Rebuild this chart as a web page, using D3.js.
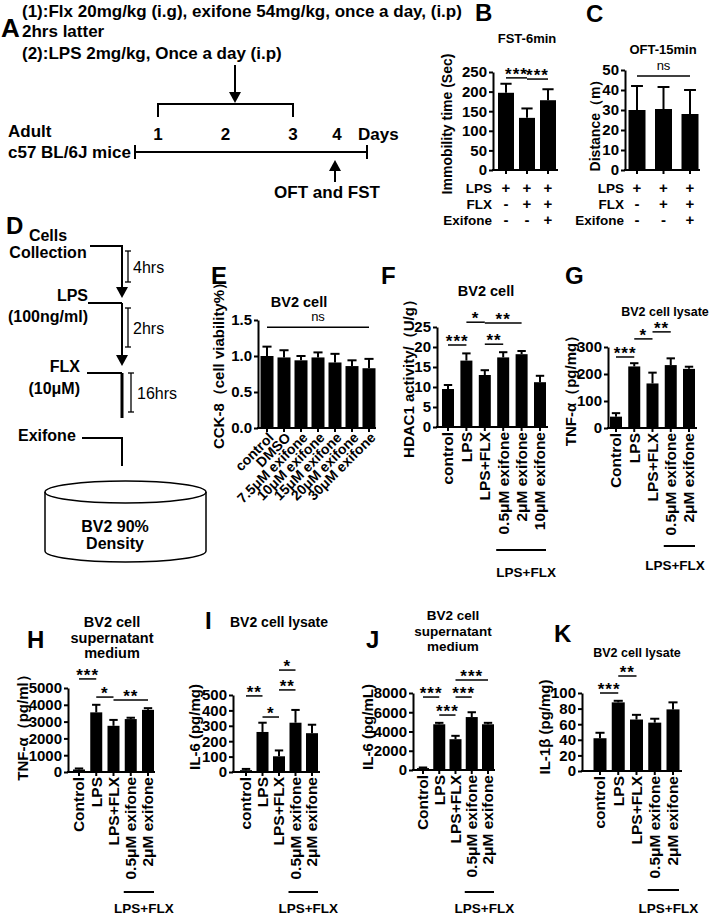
<!DOCTYPE html>
<html>
<head>
<meta charset="utf-8">
<script src="https://cdn.jsdelivr.net/npm/d3@7"></script>
<style>
  body { margin: 0; background: #fff; }
  svg { font-family: "Liberation Sans", Arial, Helvetica, sans-serif; font-weight: bold; }
</style>
</head>
<body>
<svg id="fig" width="709" height="916"></svg>
<script>
/* DATA */
// B: forced swim test
const fstValues = [197, 133, 178];
const fstErrors = [23, 24, 28];
// C: open field test
const oftValues = [30, 30.5, 28];
const oftErrors = [12, 11, 12];
const treatRows = ["LPS", "FLX", "Exifone"];
const treatSigns = [["+", "+", "+"], ["-", "+", "+"], ["-", "-", "+"]];
// E: CCK-8
const cckLabels = ["control", "DMSO", "7.5μM exifone", "10μM exifone", "15μM exifone", "20μM exifone", "30μM exifone"];
const cckValues = [1.00, 0.98, 0.94, 0.98, 0.91, 0.86, 0.83];
const cckErrors = [0.13, 0.10, 0.06, 0.07, 0.12, 0.08, 0.13];
// F: HDAC1
const hdacLabels = ["control", "LPS", "LPS+FLX", "0.5μM exifone", "2μM exifone", "10μM exifone"];
const hdacValues = [9.5, 16.6, 13.0, 17.4, 18.2, 11.2];
const hdacErrors = [1.0, 1.8, 1.2, 1.3, 0.8, 1.6];
// G-K: cytokines
const cytoLabels = ["Control", "LPS", "LPS+FLX", "0.5μM exifone", "2μM exifone"];
const cytoLabelsLc = ["control", "LPS", "LPS+FLX", "0.5μM exifone", "2μM exifone"];
const tnfLysValues = [42, 228, 165, 233, 219];
const tnfLysErrors = [13, 12, 40, 25, 8];
const tnfSupValues = [150, 3550, 2750, 3150, 3700];
const tnfSupErrors = [60, 450, 350, 80, 100];
const il6LysValues = [12, 260, 102, 320, 252];
const il6LysErrors = [8, 60, 38, 83, 55];
const il6SupValues = [200, 4750, 3200, 5500, 4750];
const il6SupErrors = [60, 150, 350, 500, 150];
const il1bValues = [42, 88, 66, 62, 79];
const il1bErrors = [7, 2, 6, 5, 9];

// significance marks: [bar, bar, label, line height in axis units]
const fstSig = [[0, 1, "***", 235], [1, 2, "***", 232]];
const oftSig = [[0, 2, "ns", 47]];
const cckSig = [[0, 6, "ns", 1.40]];
const hdacSig = [[0, 1, "***", 20.5], [1, 2, "*", 26.2], [2, 3, "**", 20.7], [2, 4, "**", 26]];
const tnfLysSig = [[0, 1, "***", 263], [1, 2, "*", 330], [2, 3, "**", 356]];
const tnfSupSig = [[0, 1, "***", 5540], [1, 2, "*", 4460], [2, 4, "**", 4290]];
const il6LysSig = [[0, 1, "**", 494], [1, 2, "*", 357], [2, 3, "**", 533], [2, 3, "*", 662]];
const il6SupSig = [[0, 1, "***", 7580], [2, 3, "***", 7580], [1, 2, "***", 5710], [2, 4, "***", 9350]];
const il1bSig = [[0, 1, "***", 100], [1, 2, "**", 121.8]];

const svg = d3.select("#fig");

function label(x, y, s, size, anchor, weight) {
  return svg.append("text")
    .attr("x", x).attr("y", y)
    .attr("font-size", size)
    .attr("text-anchor", anchor || "start")
    .attr("font-weight", weight || "bold")
    .text(s);
}
function line(x1, y1, x2, y2, w) {
  return svg.append("line")
    .attr("x1", x1).attr("y1", y1).attr("x2", x2).attr("y2", y2)
    .attr("stroke", "#000").attr("stroke-width", w || 2);
}
function arrowHead(x, y, dir) {
  // dir 1 = pointing down, -1 = pointing up
  svg.append("path")
    .attr("d", `M${x},${y} L${x - 6},${y - 11 * dir} L${x + 6},${y - 11 * dir} Z`)
    .attr("fill", "#000");
}

/* PANEL A: timeline */
label(1, 37, "A", 26);
label(22, 17, "(1):Flx 20mg/kg (i.g), exifone 54mg/kg, once a day, (i.p)", 17);
label(22, 37, "2hrs latter", 17);
label(22, 59, "(2):LPS 2mg/kg, Once a day (i.p)", 17);
line(235, 65, 235, 95);
arrowHead(235, 103, 1);
line(158, 104, 293, 104);
line(158, 103, 158, 117);
line(293, 103, 293, 117);
const dayX = d3.scaleLinear().domain([1, 3]).range([158, 293]);
[1, 2, 3, 4].forEach(d => label(d === 4 ? 337 : dayX(d), 140, String(d), 17, "middle"));
label(358, 140, "Days", 17);
label(8, 137, "Adult", 17);
label(8, 158, "c57 BL/6J mice", 17);
line(135, 152, 367, 152);
line(135, 145, 135, 159);
line(367, 145, 367, 159);
line(335, 170, 335, 182);
arrowHead(335, 160, -1);
label(327, 198, "OFT and FST", 17, "middle");

/* PANEL D: protocol */
label(6, 234, "D", 24);
label(48, 241, "Cells", 16, "middle");
label(48, 258, "Collection", 16, "middle");
line(90, 246, 122, 246);
line(122, 245, 122, 290);
arrowHead(122, 298, 1);
function span(x, y1, y2, txt, tx) {
  line(x, y1, x, y2, 1.3);
  line(x - 3, y1, x + 3, y1, 1.3);
  line(x - 3, y2, x + 3, y2, 1.3);
  label(tx, (y1 + y2) / 2 + 6, txt, 16, "start", "normal");
}
span(128, 251, 282, "4hrs", 133);
label(88, 301, "LPS", 16, "end");
label(88, 322, "(100ng/ml)", 16, "end");
line(88, 303, 122, 303);
line(122, 303, 122, 357);
arrowHead(122, 366, 1);
span(128, 308, 347, "2hrs", 133);
label(80, 372, "FLX", 16, "end");
label(80, 394, "(10μM)", 16, "end");
line(87, 373, 122, 373);
line(122, 373, 122, 418, 3);
span(131, 373, 412, "16hrs", 137);
label(18, 441, "Exifone", 16);
line(82, 438, 123, 438);
line(122, 437, 122, 466);
// culture dish
const cyl = { cx: 125.5, rx: 80.5, top: 492, bot: 551, ry: 11 };
svg.append("ellipse").attr("cx", cyl.cx).attr("cy", cyl.top).attr("rx", cyl.rx).attr("ry", cyl.ry)
  .attr("fill", "none").attr("stroke", "#000").attr("stroke-width", 1.5);
svg.append("path")
  .attr("d", `M${cyl.cx - cyl.rx},${cyl.top} L${cyl.cx - cyl.rx},${cyl.bot} A${cyl.rx},${cyl.ry} 0 0 0 ${cyl.cx + cyl.rx},${cyl.bot} L${cyl.cx + cyl.rx},${cyl.top}`)
  .attr("fill", "none").attr("stroke", "#000").attr("stroke-width", 1.5);
label(115, 532, "BV2 90%", 16, "middle");
label(115, 549, "Density", 16, "middle");

/* BAR PANELS */
function barPanel(p) {
  const g = svg.append("g");
  const n = p.values.length;
  const x = d3.scalePoint().domain(d3.range(n)).range([p.c0, p.c1]);
  const y = d3.scaleLinear().domain([0, p.max]).range([p.y0, p.y1]);

  // bars
  g.selectAll("rect.bar").data(p.values).join("rect")
    .attr("class", "bar")
    .attr("x", (d, i) => x(i) - p.bw / 2)
    .attr("y", d => y(d))
    .attr("width", p.bw)
    .attr("height", d => y(0) - y(d))
    .attr("fill", "#000");

  // error bars (upper half only, lower half hides in the bar)
  const eb = g.selectAll("g.err").data(p.values).join("g").attr("class", "err");
  eb.append("line")
    .attr("x1", (d, i) => x(i)).attr("x2", (d, i) => x(i))
    .attr("y1", d => y(d)).attr("y2", (d, i) => y(d + p.errors[i]))
    .attr("stroke", "#000").attr("stroke-width", 2);
  eb.append("line")
    .attr("x1", (d, i) => x(i) - p.bw * 0.35).attr("x2", (d, i) => x(i) + p.bw * 0.35)
    .attr("y1", (d, i) => y(d + p.errors[i])).attr("y2", (d, i) => y(d + p.errors[i]))
    .attr("stroke", "#000").attr("stroke-width", 2);

  // y axis
  const ya = g.append("g")
    .attr("transform", `translate(${p.ax},0)`)
    .call(d3.axisLeft(y).tickValues(p.ticks).tickSize(4).tickSizeOuter(0).tickPadding(2)
      .tickFormat(p.fmt || d3.format("d")));
  ya.attr("font-size", 15).attr("font-family", null).attr("font-weight", "bold");
  ya.selectAll("path, line").attr("stroke-width", 2);

  // x axis
  g.append("line").attr("x1", p.ax - 1).attr("x2", p.axEnd).attr("y1", p.y0).attr("y2", p.y0)
    .attr("stroke", "#000").attr("stroke-width", 2);
  g.selectAll("line.xt").data(d3.range(n)).join("line").attr("class", "xt")
    .attr("x1", i => x(i)).attr("x2", i => x(i)).attr("y1", p.y0).attr("y2", p.y0 + 4)
    .attr("stroke", "#000").attr("stroke-width", 2);

  // category labels
  if (p.labels && p.labelMode === "vertical") {
    g.selectAll("text.xl").data(p.labels).join("text").attr("class", "xl")
      .attr("transform", (d, i) => `translate(${x(i)},${p.y0 + 5}) rotate(-90)`)
      .attr("text-anchor", "end").attr("dy", "0.35em")
      .attr("font-size", p.xlSize || 15.5).text(d => d);
  } else if (p.labels && p.labelMode === "diag") {
    g.selectAll("text.xl").data(p.labels).join("text").attr("class", "xl")
      .attr("transform", (d, i) => `translate(${x(i) + 4},${p.y0 + 7}) rotate(-45)`)
      .attr("text-anchor", "end").attr("dy", "0.35em")
      .attr("font-size", p.xlSize || 14).text(d => d);
  }

  // treatment table
  if (p.table) {
    p.table.rows.forEach((r, k) => {
      const yy = p.table.y0 + k * p.table.dy;
      g.append("text").attr("x", p.ax - 1).attr("y", yy).attr("text-anchor", "end")
        .attr("font-size", 13.5).text(r);
      p.table.signs[k].forEach((s, i) => {
        g.append("text").attr("x", x(i)).attr("y", yy).attr("text-anchor", "middle")
          .attr("font-size", 15).text(s);
      });
    });
  }

  // group line under labels
  if (p.group) {
    const gx1 = x(p.group.from) - 7, gx2 = x(n - 1) + 6;
    g.append("line").attr("x1", gx1).attr("x2", gx2).attr("y1", p.group.ly).attr("y2", p.group.ly)
      .attr("stroke", "#000").attr("stroke-width", 2);
    const tx = p.group.tx !== undefined ? p.group.tx : (gx1 + gx2) / 2 + 5;
    g.append("text").attr("x", tx).attr("y", p.group.ty)
      .attr("text-anchor", "middle").attr("font-size", 13.5).text("LPS+FLX");
  }

  // significance
  (p.sigs || []).forEach(([a, b, s, v]) => {
    const ly = y(v);
    g.append("line").attr("x1", x(a)).attr("x2", x(b)).attr("y1", ly).attr("y2", ly)
      .attr("stroke", "#000").attr("stroke-width", 1.5);
    const ns = s === "ns";
    g.append("text").attr("x", (x(a) + x(b)) / 2).attr("y", ns ? ly - 6 : ly + 2)
      .attr("text-anchor", "middle")
      .attr("font-size", ns ? 13 : 17)
      .attr("font-weight", ns ? "normal" : "bold")
      .attr("letter-spacing", ns ? 0 : 1)
      .text(s);
  });

  // title
  p.title.forEach((t, k) => {
    g.append("text").attr("x", p.tx).attr("y", p.ty + k * 15.5).attr("text-anchor", "middle")
      .attr("font-size", p.tSize).text(t);
  });
  // y label
  g.append("text")
    .attr("transform", `translate(${p.ylx},${p.yly}) rotate(-90)`)
    .attr("text-anchor", "middle").attr("font-size", p.ylSize || 15).text(p.ylabel);
  // panel letter
  g.append("text").attr("x", p.lx).attr("y", p.ly).attr("font-size", 24).text(p.letter);
}

barPanel({ letter: "B", lx: 475, ly: 21, values: fstValues, errors: fstErrors,
  c0: 506, c1: 548, bw: 16, ax: 493, axEnd: 558, y0: 170, y1: 72, max: 250,
  ticks: [0, 50, 100, 150, 200, 250], sigs: fstSig,
  table: { rows: treatRows, signs: treatSigns, y0: 193, dy: 16 },
  title: ["FST-6min"], tx: 527, ty: 43, tSize: 13,
  ylabel: "Immobility time (Sec)", ylx: 452, yly: 124, ylSize: 14 });

barPanel({ letter: "C", lx: 586, ly: 22, values: oftValues, errors: oftErrors,
  c0: 637, c1: 690, bw: 17, ax: 625, axEnd: 700, y0: 170, y1: 70, max: 50,
  ticks: [0, 10, 20, 30, 40, 50], sigs: oftSig,
  table: { rows: treatRows, signs: treatSigns, y0: 193, dy: 16 },
  title: ["OFT-15min"], tx: 663, ty: 54, tSize: 13,
  ylabel: "Distance（m）", ylx: 600, yly: 122, ylSize: 14 });

barPanel({ letter: "E", lx: 211, ly: 284, values: cckValues, errors: cckErrors,
  c0: 267, c1: 369, bw: 13, ax: 258, axEnd: 376, y0: 428, y1: 320, max: 1.5,
  ticks: [0, 0.5, 1.0, 1.5], fmt: d3.format(".1f"), sigs: cckSig,
  labels: cckLabels, labelMode: "diag", xlSize: 14,
  title: ["BV2 cell"], tx: 299, ty: 307, tSize: 14.5,
  ylabel: "CCK-8（cell viability%）", ylx: 224, yly: 362 });

barPanel({ letter: "F", lx: 381, ly: 284, values: hdacValues, errors: hdacErrors,
  c0: 448, c1: 540, bw: 12, ax: 437, axEnd: 548, y0: 427, y1: 327, max: 25,
  ticks: [0, 5, 10, 15, 20, 25], sigs: hdacSig,
  labels: hdacLabels, labelMode: "vertical",
  group: { from: 3, ly: 550, ty: 577 },
  title: ["BV2 cell"], tx: 486, ty: 296, tSize: 14.5,
  ylabel: "HDAC1 activity/（U/g）", ylx: 414, yly: 375 });

barPanel({ letter: "G", lx: 565, ly: 284, values: tnfLysValues, errors: tnfLysErrors,
  c0: 616, c1: 689, bw: 12, ax: 608, axEnd: 697, y0: 428, y1: 347, max: 300,
  ticks: [0, 100, 200, 300], sigs: tnfLysSig,
  labels: cytoLabels, labelMode: "vertical",
  group: { from: 3, ly: 546, ty: 570, tx: 675 },
  title: ["BV2 cell lysate"], tx: 665, ty: 316, tSize: 12.5,
  ylabel: "TNF-α（pg/mg）", ylx: 576, yly: 387 });

barPanel({ letter: "H", lx: 27, ly: 648, values: tnfSupValues, errors: tnfSupErrors,
  c0: 79, c1: 148, bw: 12, ax: 68, axEnd: 155, y0: 772, y1: 688, max: 5000,
  ticks: [0, 1000, 2000, 3000, 4000, 5000], sigs: tnfSupSig,
  labels: cytoLabels, labelMode: "vertical",
  group: { from: 3, ly: 892, ty: 913 },
  title: ["BV2 cell", "supernatant", "medium"], tx: 112, ty: 627, tSize: 14.5,
  ylabel: "TNF-α（pg/ml）", ylx: 28, yly: 724 });

barPanel({ letter: "I", lx: 205, ly: 629, values: il6LysValues, errors: il6LysErrors,
  c0: 246, c1: 312, bw: 12, ax: 233, axEnd: 320, y0: 772, y1: 695, max: 500,
  ticks: [0, 100, 200, 300, 400, 500], sigs: il6LysSig,
  labels: cytoLabelsLc, labelMode: "vertical",
  group: { from: 3, ly: 892, ty: 913 },
  title: ["BV2 cell lysate"], tx: 279, ty: 627, tSize: 14,
  ylabel: "IL-6 (pg/mg)", ylx: 200, yly: 727 });

barPanel({ letter: "J", lx: 366, ly: 648, values: il6SupValues, errors: il6SupErrors,
  c0: 423, c1: 488, bw: 12, ax: 413, axEnd: 495, y0: 770, y1: 693, max: 8000,
  ticks: [0, 2000, 4000, 6000, 8000], sigs: il6SupSig,
  labels: cytoLabels, labelMode: "vertical",
  group: { from: 3, ly: 892, ty: 913 },
  title: ["BV2 cell", "supernatant", "medium"], tx: 453, ty: 620, tSize: 13.5,
  ylabel: "IL-6 (pg/mL)", ylx: 373, yly: 727 });

barPanel({ letter: "K", lx: 554, ly: 642, values: il1bValues, errors: il1bErrors,
  c0: 600, c1: 673, bw: 13, ax: 582, axEnd: 682, y0: 771, y1: 693, max: 100,
  ticks: [0, 20, 40, 60, 80, 100], sigs: il1bSig,
  labels: cytoLabelsLc, labelMode: "vertical",
  group: { from: 3, ly: 890, ty: 913 },
  title: ["BV2 cell lysate"], tx: 637, ty: 657, tSize: 12.5,
  ylabel: "IL-1β (pg/mg)", ylx: 550, yly: 727 });
</script>
</body>
</html>
